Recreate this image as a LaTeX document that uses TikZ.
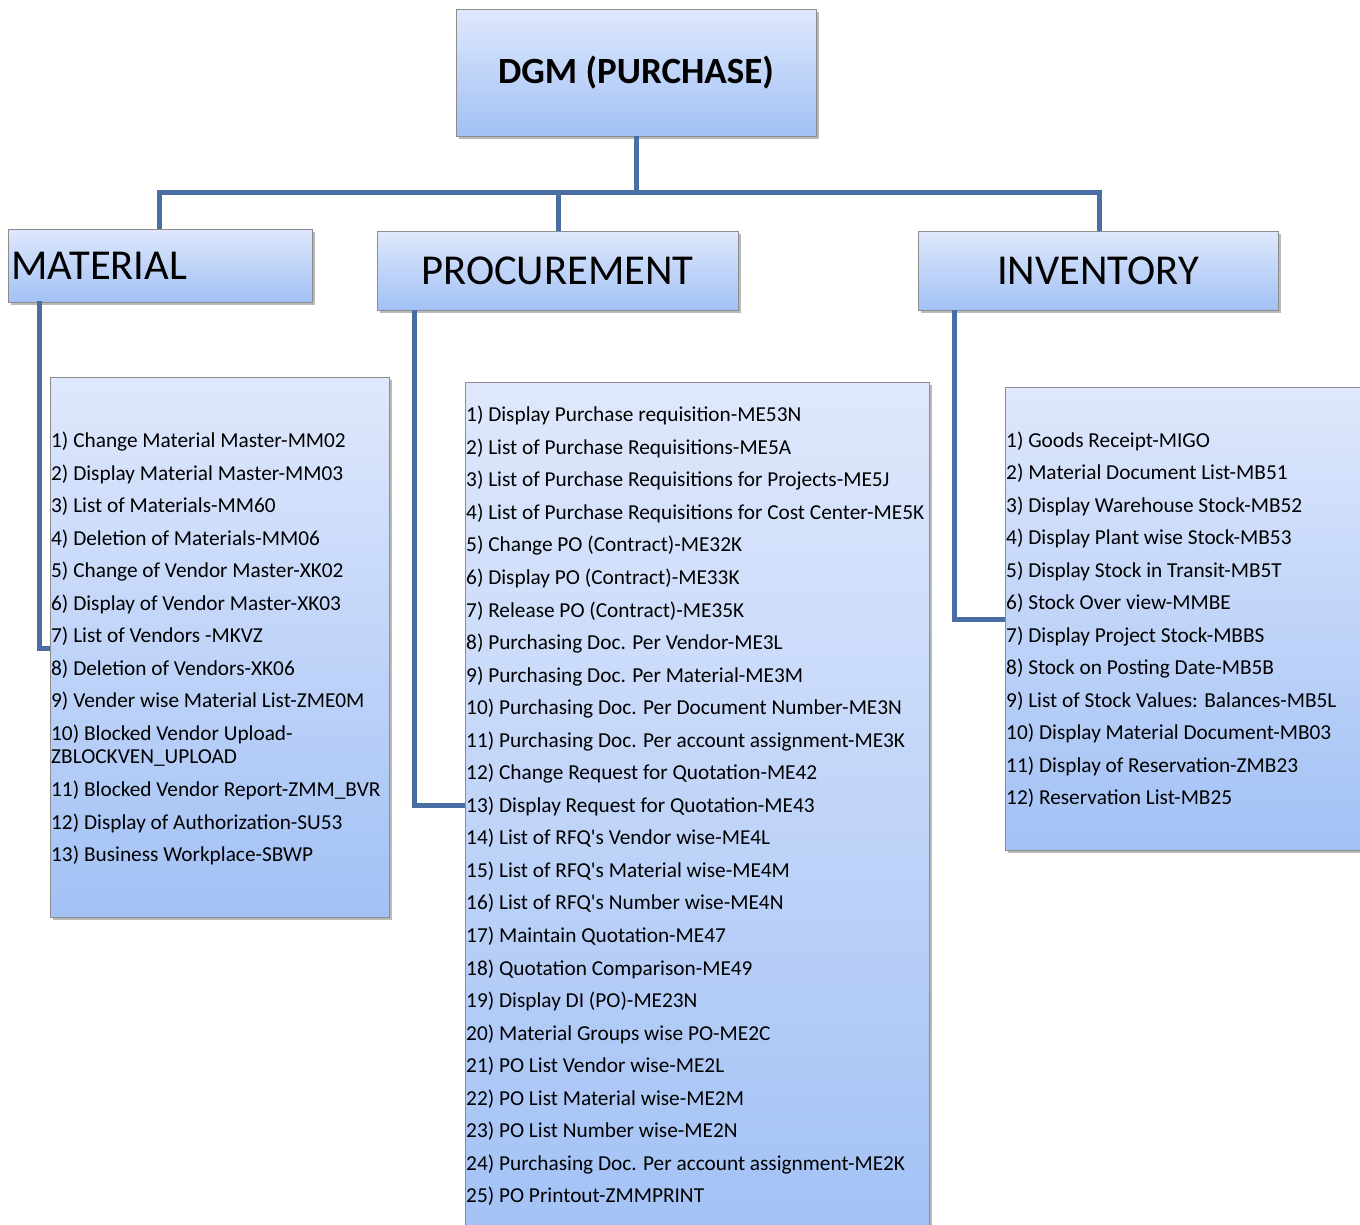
\documentclass[tikz,border=0pt]{standalone}
\usepackage{fontspec}
\setmainfont{Carlito}
\usetikzlibrary{shadows}
\definecolor{topc}{RGB}{223,232,252}
\definecolor{botc}{RGB}{162,193,245}
\definecolor{edge}{RGB}{140,140,140}
\definecolor{linkc}{RGB}{72,110,164}
\tikzset{
  box/.style={draw=edge, line width=0.9pt, top color=topc, bottom color=botc,
    shading angle=0, inner sep=0pt, rectangle,
    drop shadow={shadow xshift=2.5pt, shadow yshift=-3pt, opacity=0.45, fill=black!60}},
  link/.style={draw=linkc, line width=5pt},
  item/.style={anchor=base west, inner sep=0pt, font=\fontsize{21.3}{24}\selectfont},
  head/.style={font=\fontsize{42.6}{50}\selectfont}
}
\begin{document}
\begin{tikzpicture}[x=1pt,y=-1pt]
\useasboundingbox (0,0) rectangle (1360,1224);
\clip (0,0) rectangle (1360,1224);
% header boxes
\node[box, minimum width=360pt, minimum height=127pt, font=\bfseries\fontsize{37}{44}\selectfont] (dgm) at (636,72.5) {DGM (PURCHASE)};
\node[box, minimum width=304pt, minimum height=73pt, text width=297pt, inner xsep=3.5pt, align=left, head] (mat) at (160,265.5) {MATERIAL};
\node[box, minimum width=361pt, minimum height=79pt, head] (proc) at (557.5,270.5) {PROCUREMENT};
\node[box, minimum width=360pt, minimum height=79pt, head] (inv) at (1098,270.5) {INVENTORY};
% list boxes
\node[box, minimum width=339pt, minimum height=540pt] (matlist) at (219.5,647) {};
\node[box, minimum width=464pt, minimum height=860pt] (proclist) at (697,812) {};
\node[box, minimum width=370pt, minimum height=463pt] (invlist) at (1190,618.5) {};
% connectors
\coordinate (bus) at (636,192);
\draw[link] (dgm.south) -- (bus);
\draw[link] (mat.north -| 159,0) |- (bus) -| (inv.north -| 1099,0);
\draw[link] (proc.north -| 558,0) -- (558,192);
\draw[link] (39,300.5) |- (matlist.west |- 0,648);
\draw[link] (414,310) |- (proclist.west |- 0,805);
\draw[link] (954,310) |- (invlist.west |- 0,619);
% material list
\foreach \t [count=\i] in {
  {1) Change Material Master-MM02},
  {2) Display Material Master-MM03},
  {3) List of Materials-MM60},
  {4) Deletion of Materials-MM06},
  {5) Change of Vendor Master-XK02},
  {6) Display of Vendor Master-XK03},
  {7) List of Vendors -MKVZ},
  {8) Deletion of Vendors-XK06},
  {9) Vender wise Material List-ZME0M},
  {10) Blocked Vendor Upload-}}
  \node[item] (m\i) at (51,447.7+32.5*\i-32.5) {\t};
\node[item] (m10b) at (51,763.3) {ZBLOCKVEN\_UPLOAD};
\foreach \t [count=\i from 11] in {
  {11) Blocked Vendor Report-ZMM\_BVR},
  {12) Display of Authorization-SU53},
  {13) Business Workplace-SBWP}}
  \node[item] (m\i) at (51,796.5+32.5*\i-357.5) {\t};
% procurement list
\foreach \t [count=\i] in {
  {1) Display Purchase requisition-ME53N},
  {2) List of Purchase Requisitions-ME5A},
  {3) List of Purchase Requisitions for Projects-ME5J},
  {4) List of Purchase Requisitions for Cost Center-ME5K},
  {5) Change PO (Contract)-ME32K},
  {6) Display PO (Contract)-ME33K},
  {7) Release PO (Contract)-ME35K},
  {8) Purchasing Doc. Per Vendor-ME3L},
  {9) Purchasing Doc. Per Material-ME3M},
  {10) Purchasing Doc. Per Document Number-ME3N},
  {11) Purchasing Doc. Per account assignment-ME3K},
  {12) Change Request for Quotation-ME42},
  {13) Display Request for Quotation-ME43},
  {14) List of RFQ\textquotesingle s Vendor wise-ME4L},
  {15) List of RFQ\textquotesingle s Material wise-ME4M},
  {16) List of RFQ\textquotesingle s Number wise-ME4N},
  {17) Maintain Quotation-ME47},
  {18) Quotation Comparison-ME49},
  {19) Display DI (PO)-ME23N},
  {20) Material Groups wise PO-ME2C},
  {21) PO List Vendor wise-ME2L},
  {22) PO List Material wise-ME2M},
  {23) PO List Number wise-ME2N},
  {24) Purchasing Doc. Per account assignment-ME2K},
  {25) PO Printout-ZMMPRINT}}
  \node[item] (p\i) at (466,421.7+32.55*\i-32.55) {\t};
% inventory list
\foreach \t [count=\i] in {
  {1) Goods Receipt-MIGO},
  {2) Material Document List-MB51},
  {3) Display Warehouse Stock-MB52},
  {4) Display Plant wise Stock-MB53},
  {5) Display Stock in Transit-MB5T},
  {6) Stock Over view-MMBE},
  {7) Display Project Stock-MBBS},
  {8) Stock on Posting Date-MB5B},
  {9) List of Stock Values: Balances-MB5L},
  {10) Display Material Document-MB03},
  {11) Display of Reservation-ZMB23},
  {12) Reservation List-MB25}}
  \node[item] (i\i) at (1006,447.3+32.5*\i-32.5) {\t};
\end{tikzpicture}
\end{document}
